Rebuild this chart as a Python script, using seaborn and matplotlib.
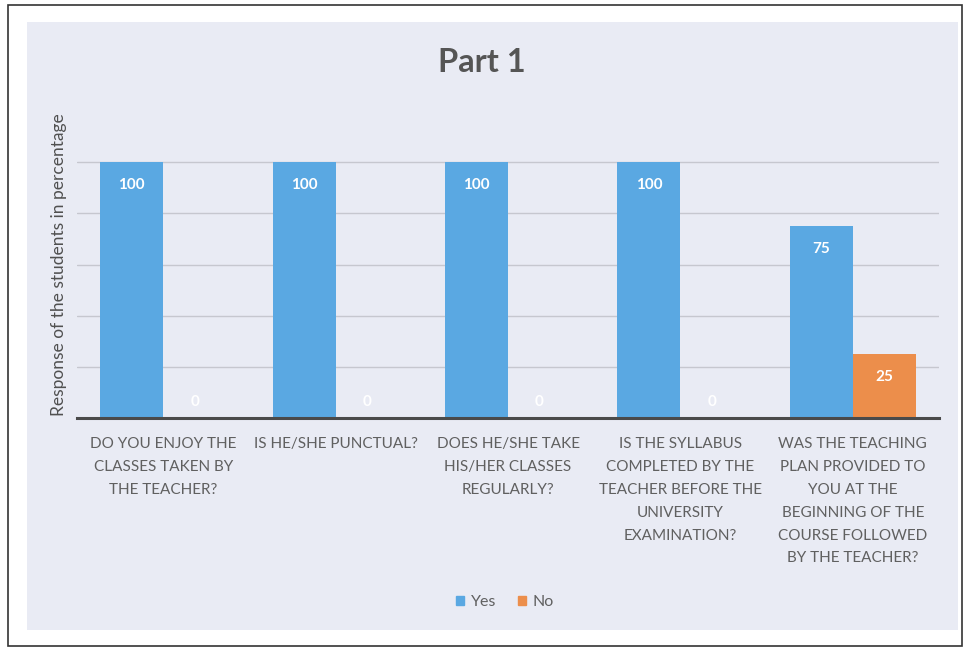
import pandas as pd
import matplotlib.pyplot as plt
import matplotlib.patches as mpatches
import seaborn as sns

questions = [
    "DO YOU ENJOY THE\nCLASSES TAKEN BY\nTHE TEACHER?",
    "IS HE/SHE PUNCTUAL?",
    "DOES HE/SHE TAKE\nHIS/HER CLASSES\nREGULARLY?",
    "IS THE SYLLABUS\nCOMPLETED BY THE\nTEACHER BEFORE THE\nUNIVERSITY\nEXAMINATION?",
    "WAS THE TEACHING\nPLAN PROVIDED TO\nYOU AT THE\nBEGINNING OF THE\nCOURSE FOLLOWED\nBY THE TEACHER?",
]
yes = [100, 100, 100, 100, 75]
no = [0, 0, 0, 0, 25]
responses = ["Yes", "No"]
colors = {"Yes": "#5aa8e2", "No": "#ec8e4b"}

df = pd.DataFrame({
    "Question": questions * 2,
    "Percent": yes + no,
    "Response": ["Yes"] * len(yes) + ["No"] * len(no),
})

sns.set_style("white")
plt.rcParams["font.family"] = ["Lato", "DejaVu Sans"]

fig = plt.figure(figsize=(9.64, 6.48), dpi=100)
fig.patch.set_facecolor("white")
# outer frame and chart area background
fig.patches.append(mpatches.Rectangle((8 / 964, 1 - 646 / 648), 954 / 964, 641 / 648,
                                      transform=fig.transFigure, facecolor="white",
                                      edgecolor="#333333", linewidth=1.2, zorder=-2))
fig.patches.append(mpatches.Rectangle((27 / 964, 1 - 630 / 648), 931 / 964, 608 / 648,
                                      transform=fig.transFigure, facecolor="#e9ebf4",
                                      edgecolor="none", zorder=-1))

ax = fig.add_axes([77 / 964, 1 - 418 / 648, 862 / 964, 307 / 648])
ax.patch.set_alpha(0)

sns.barplot(data=df, x="Question", y="Percent", hue="Response", hue_order=responses,
            palette=colors, width=0.73, saturation=1, linewidth=0, ax=ax, legend=False)

ax.set_ylim(0, 120)
ax.set_yticks([20, 40, 60, 80, 100])
ax.set_yticklabels([])
ax.yaxis.grid(True, color="#c6c7cf", linewidth=1)
ax.set_axisbelow(True)
for s in ["top", "right", "left"]:
    ax.spines[s].set_visible(False)
ax.spines["bottom"].set_color("#4a4a4a")
ax.spines["bottom"].set_linewidth(2.2)
ax.tick_params(axis="both", length=0)
ax.tick_params(axis="x", pad=14)
for lbl in ax.get_xticklabels():
    lbl.set_fontsize(11)
    lbl.set_color("#606060")
    lbl.set_linespacing(1.8)
    lbl.set_verticalalignment("top")

ax.set_xlabel("")
ax.set_ylabel("Response of the students in percentage", fontsize=12.5,
              color="#505050", labelpad=4)

# data labels inside the bar ends
for cont in ax.containers:
    for bar in cont:
        h = bar.get_height()
        off = -23 if h > 0 else 16
        ax.annotate(f"{h:.0f}", (bar.get_x() + bar.get_width() / 2, h),
                    xytext=(0, off), textcoords="offset pixels",
                    ha="center", va="center", color="white",
                    fontsize=11, fontweight="bold")

fig.text(0.5, 1 - 63 / 648, "Part 1", ha="center", va="center",
         fontsize=23.5, fontweight="bold", color="#555555")

handles = [mpatches.Patch(color=colors[r], label=r) for r in responses]
fig.legend(handles=handles, loc="center", bbox_to_anchor=(505 / 964, 1 - 602 / 648),
           ncol=2, frameon=False, fontsize=11.5, handlelength=0.5, handleheight=0.5,
           handletextpad=0.4, columnspacing=1.4, labelcolor="#606060")

fig.savefig("out.png", dpi=100)
